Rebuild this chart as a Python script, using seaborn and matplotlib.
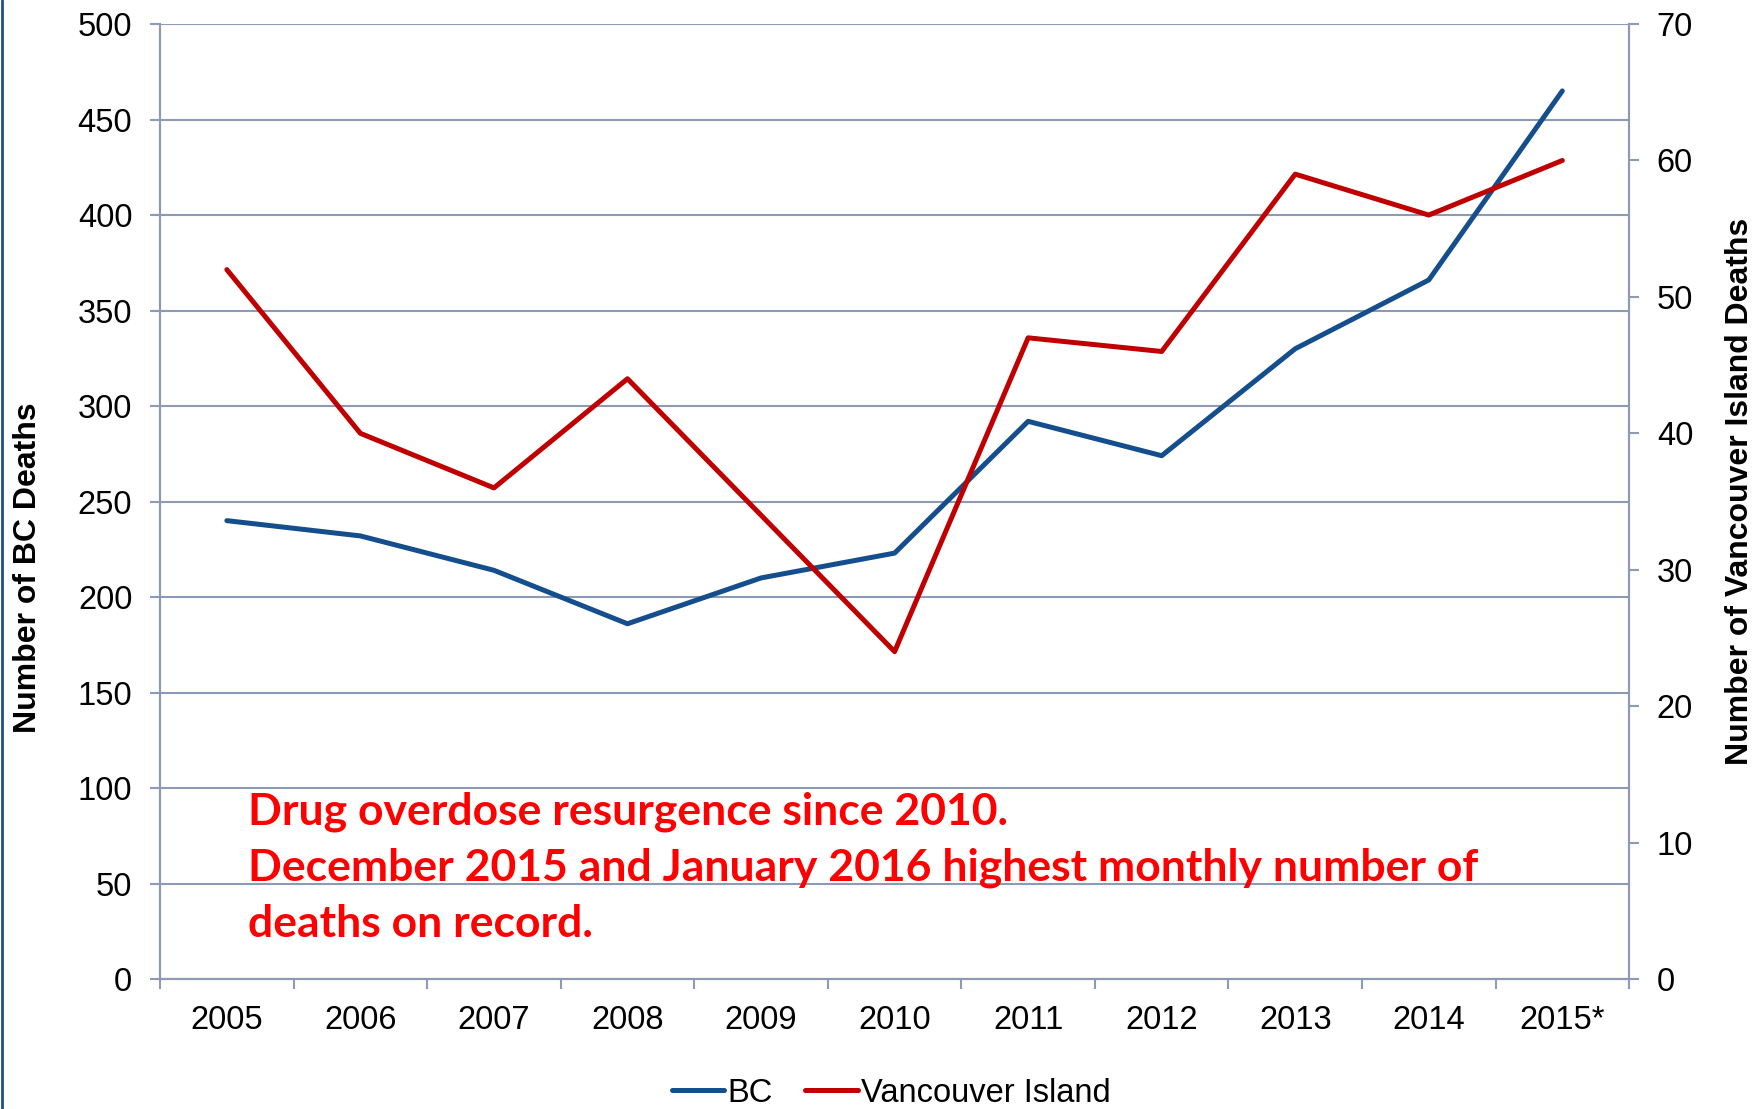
import numpy as np
import pandas as pd
import matplotlib
matplotlib.use("Agg")
import matplotlib.pyplot as plt
import seaborn as sns
from matplotlib.lines import Line2D

years = ["2005", "2006", "2007", "2008", "2009", "2010", "2011", "2012", "2013", "2014", "2015*"]
bc_deaths = [240, 232, 214, 186, 210, 223, 292, 274, 330, 366, 465]
vi_deaths = [52, 40, 36, 44, 34, 24, 47, 46, 59, 56, 60]

bc_color = "#154E8C"
vi_color = "#C00000"
grid_color = "#8C9AB6"

sns.set_style("white")
plt.rcParams["font.family"] = ["Liberation Sans", "DejaVu Sans"]
plt.rcParams["text.color"] = "black"
plt.rcParams["axes.labelcolor"] = "black"

df = pd.DataFrame({"pos": np.arange(len(years)), "year": years, "BC": bc_deaths, "VI": vi_deaths})

fig = plt.figure(figsize=(17.65, 11.09), dpi=100)
ax = fig.add_axes([0.0907, 0.1172, 0.8323, 0.8611])
ax2 = ax.twinx()

sns.lineplot(data=df, x="pos", y="BC", ax=ax, color=bc_color, linewidth=3.6, label="BC", legend=False)
sns.lineplot(data=df, x="pos", y="VI", ax=ax2, color=vi_color, linewidth=3.6, label="Vancouver Island", legend=False)

ax.set_xlim(-0.5, len(years) - 0.5)
ax.set_ylim(0, 500)
ax2.set_ylim(0, 70)
ax.set_yticks(np.arange(0, 501, 50))
ax2.set_yticks(np.arange(0, 71, 10))

# boundaries as major ticks, year labels as minor ticks
ax.set_xticks(np.arange(-0.5, len(years), 1.0))
ax.set_xticklabels([])
ax.set_xticks(np.arange(len(years)), minor=True)
ax.set_xticklabels(years, minor=True)
ax.tick_params(axis="x", which="major", direction="out", length=7, width=1.5, color=grid_color, bottom=True)
ax.tick_params(axis="x", which="minor", length=0, pad=19, labelsize=23.5, labelcolor="black")
ax.tick_params(axis="y", direction="out", length=7, width=1.5, color=grid_color, left=True,
               labelsize=23.5, pad=13, labelcolor="black")
ax2.tick_params(axis="y", direction="out", length=7, width=1.5, color=grid_color, right=True,
                labelsize=23.5, pad=13, labelcolor="black")

ax.grid(axis="y", color=grid_color, linewidth=1.5)
ax.set_axisbelow(True)
for a in (ax, ax2):
    for s in ["left", "right", "bottom"]:
        a.spines[s].set_color(grid_color)
        a.spines[s].set_linewidth(1.5)
    a.spines["top"].set_visible(False)

ax.set_xlabel("")
ax.set_ylabel("Number of BC Deaths", fontsize=23, fontweight="bold", color="black")
ax.yaxis.set_label_coords(-0.08, 0.431)
ax2.set_ylabel("Number of Vancouver Island Deaths", fontsize=23, fontweight="bold", color="black")
ax2.yaxis.set_label_coords(1.065, 0.511)

ax.text(0.06, 0.196,
        "Drug overdose resurgence since 2010.\n"
        "December 2015 and January 2016 highest monthly number of\n"
        "deaths on record.",
        transform=ax.transAxes, ha="left", va="top", color="#FF0000",
        fontsize=32, fontweight="bold", family=["Lato", "DejaVu Sans"], linespacing=1.47)

h1, l1 = ax.get_legend_handles_labels()
h2, l2 = ax2.get_legend_handles_labels()
fig.legend(h1 + h2, l1 + l2, loc="center", bbox_to_anchor=(0.505, 0.0144), ncol=2, frameon=False,
           fontsize=23.5, handlelength=1.6, handletextpad=0.1, columnspacing=1.0)

fig.add_artist(Line2D([0.001, 0.001], [0, 1], transform=fig.transFigure, color="#1F4E8A", linewidth=2))

fig.savefig("out.png", dpi=100)
